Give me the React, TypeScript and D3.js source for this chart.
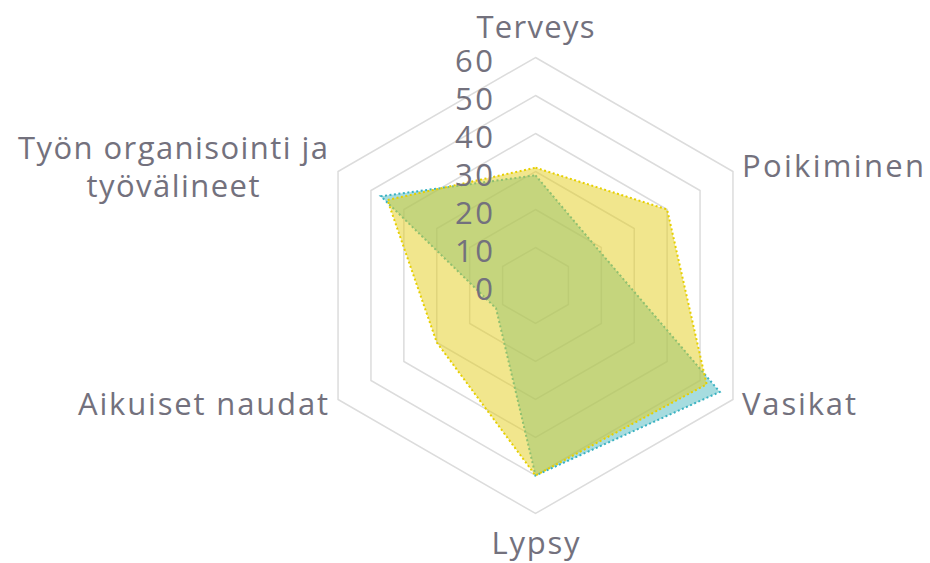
import React from "react";
import * as d3 from "d3";

const axes: string[][] = [
  ["Terveys"],
  ["Poikiminen"],
  ["Vasikat"],
  ["Lypsy"],
  ["Aikuiset naudat"],
  ["Työn organisointi ja", "työvälineet"],
];
const seriesBlue = [29, 19, 56, 50, 12, 47];
const seriesYellow = [31, 40, 52, 50, 30, 45];
const ticks = [0, 10, 20, 30, 40, 50, 60];

const W = 930;
const H = 563;
const cx = 535.5;
const cy = 285.5;
const FONT = "'Open Sans', 'Noto Sans', sans-serif";
const TEXT = "#73717d";

export default function App() {
  const r = d3.scaleLinear().domain([0, 60]).range([0, 228]);
  const angle = (i: number) => -Math.PI / 2 + (i * 2 * Math.PI) / axes.length;
  const pt = (i: number, v: number): [number, number] => [
    cx + Math.cos(angle(i)) * r(v),
    cy + Math.sin(angle(i)) * r(v),
  ];
  const line = d3.line<[number, number]>().curve(d3.curveLinearClosed);
  const ring = (v: number) => line(axes.map((_, i) => pt(i, v))) || "";
  const poly = (vals: number[]) => line(vals.map((v, i) => pt(i, v))) || "";

  const labelPos = [
    { x: cx, y: 26, anchor: "middle", len: [118] },
    { x: 742, y: 165, anchor: "start", len: [182] },
    { x: 742, y: 403, anchor: "start", len: [114] },
    { x: cx, y: 542, anchor: "middle", len: [88] },
    { x: 328, y: 403, anchor: "end", len: [250] },
    { x: 173, y: 147, anchor: "middle", len: [310, 173] },
  ];

  return (
    <svg
      width={W}
      height={H}
      style={{ position: "absolute", left: 0, top: 0, background: "#fff" }}
    >
      {ticks
        .filter((t) => t > 0)
        .map((t) => (
          <path key={t} d={ring(t)} fill="none" stroke="#dcdcdc" strokeWidth={1.5} />
        ))}
      <path
        d={poly(seriesBlue)}
        fill="rgb(77,185,191)"
        fillOpacity={0.5}
        stroke="#3ab2c2"
        strokeWidth={2}
        strokeDasharray="2 2.5"
      />
      <path
        d={poly(seriesYellow)}
        fill="rgb(227,205,27)"
        fillOpacity={0.5}
        stroke="#e6cf00"
        strokeWidth={2}
        strokeDasharray="2 2.5"
      />
      {ticks.map((t) => (
        <text
          key={t}
          x={493}
          y={cy - r(t) + 2}
          textAnchor="end"
          dominantBaseline="central"
          fontFamily={FONT}
          fontSize={31}
          fill={TEXT}
          textLength={t >= 10 ? 38 : undefined}
          lengthAdjust="spacing"
        >
          {t}
        </text>
      ))}
      {axes.map((lines, i) =>
        lines.map((l, j) => (
          <text
            key={i + "-" + j}
            x={labelPos[i].x}
            y={labelPos[i].y + j * 38}
            textAnchor={labelPos[i].anchor as any}
            dominantBaseline="central"
            fontFamily={FONT}
            fontSize={31}
            fill={TEXT}
            textLength={labelPos[i].len[j]}
            lengthAdjust="spacing"
          >
            {l}
          </text>
        ))
      )}
    </svg>
  );
}
